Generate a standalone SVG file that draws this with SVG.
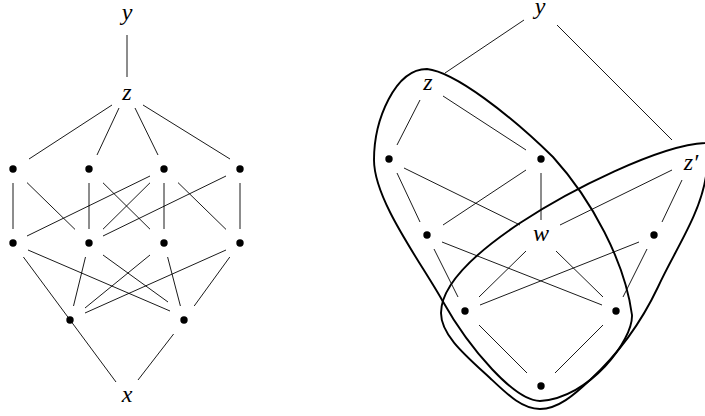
<svg xmlns="http://www.w3.org/2000/svg" width="705" height="416" viewBox="0 0 705 416">
<style>
.e{stroke:#000;stroke-width:0.9;fill:none;stroke-linecap:butt}
.b{stroke:#000;stroke-width:1.9;fill:none}
.d{fill:#000}
.t{font-family:"Liberation Serif","Times New Roman",serif;font-style:italic;font-size:24px;text-anchor:middle;fill:#000}
</style>
<rect width="705" height="416" fill="#fff"/>
<g id="left-connectors">
<line class="e" x1="127" y1="35" x2="127" y2="77"/>
<line class="e" x1="112" y1="105" x2="29" y2="159"/>
<line class="e" x1="119" y1="108" x2="97" y2="155"/>
<line class="e" x1="135" y1="108" x2="158" y2="155"/>
<line class="e" x1="143" y1="105" x2="230" y2="159"/>
<line class="e" x1="13" y1="183" x2="13" y2="229"/>
<line class="e" x1="27" y1="182.6" x2="75" y2="229.4"/>
<line class="e" x1="89" y1="183" x2="89" y2="229"/>
<line class="e" x1="103" y1="182.8" x2="150" y2="229.2"/>
<line class="e" x1="150" y1="176" x2="27" y2="236"/>
<line class="e" x1="150" y1="182.8" x2="103" y2="229.2"/>
<line class="e" x1="164" y1="183" x2="164" y2="229"/>
<line class="e" x1="178" y1="182.6" x2="226" y2="229.4"/>
<line class="e" x1="226" y1="176" x2="103" y2="236"/>
<line class="e" x1="240" y1="183" x2="240" y2="229"/>
<line class="e" x1="23.4" y1="257" x2="116" y2="382"/>
<line class="e" x1="28" y1="250" x2="170" y2="311"/>
<line class="e" x1="85.5" y1="257" x2="73.5" y2="306"/>
<line class="e" x1="103" y1="255" x2="168" y2="302"/>
<line class="e" x1="150" y1="255" x2="85" y2="308"/>
<line class="e" x1="167.6" y1="257" x2="180.4" y2="306"/>
<line class="e" x1="226" y1="250" x2="85" y2="313"/>
<line class="e" x1="229.8" y1="257" x2="194.2" y2="306"/>
<line class="e" x1="173.6" y1="334" x2="138" y2="380"/>
</g>
<g id="right-connectors">
<line class="e" x1="524" y1="20" x2="445" y2="73"/>
<line class="e" x1="557" y1="25" x2="672" y2="140"/>
<line class="e" x1="420" y1="100" x2="397" y2="145"/>
<line class="e" x1="443" y1="96" x2="526" y2="150"/>
<line class="e" x1="404" y1="168" x2="520" y2="225"/>
<line class="e" x1="397" y1="173" x2="420" y2="222"/>
<line class="e" x1="526" y1="170" x2="443" y2="225"/>
<line class="e" x1="541" y1="173" x2="541" y2="220"/>
<line class="e" x1="672" y1="170" x2="560" y2="225"/>
<line class="e" x1="682" y1="180" x2="662" y2="222"/>
<line class="e" x1="434" y1="249" x2="458" y2="297"/>
<line class="e" x1="442" y1="242" x2="602" y2="305"/>
<line class="e" x1="526" y1="251" x2="479" y2="297"/>
<line class="e" x1="556" y1="251" x2="603" y2="297"/>
<line class="e" x1="639" y1="242" x2="480" y2="305"/>
<line class="e" x1="647" y1="249" x2="623" y2="297"/>
<line class="e" x1="479" y1="325" x2="527" y2="373"/>
<line class="e" x1="603" y1="325" x2="555" y2="373"/>
</g>
<g id="blobs">
<path id="blob-z" class="b" d="M427,69 C455,72 510,115 553,157 C592,200 625,262 632,315 C633,340 590,398 540,401 C515,401 470,350 442,300 C420,261 374,200 374,160 C374,120 395,69 427,69 Z"/>
<path id="blob-z2" class="b" d="M705,143 C660,145 570,190 520,223 C490,243 441,280 441,313 C441,335 465,355 490,378 C508,395 522,409 540,409 C558,409 574,395 590,380 C615,357 640,325 658,287 C675,250 700,215 706,176 C712,152 720,140 705,143 Z"/>
</g>
<g id="ly"><text class="t" x="127" y="20">y</text></g>
<g id="lz"><text class="t" x="127" y="100">z</text></g>
<g id="l11"><circle class="d" cx="13" cy="169" r="3.7"/></g>
<g id="l12"><circle class="d" cx="89" cy="169" r="3.7"/></g>
<g id="l13"><circle class="d" cx="164" cy="169" r="3.7"/></g>
<g id="l14"><circle class="d" cx="240" cy="169" r="3.7"/></g>
<g id="l21"><circle class="d" cx="13" cy="243" r="3.7"/></g>
<g id="l22"><circle class="d" cx="89" cy="243" r="3.7"/></g>
<g id="l23"><circle class="d" cx="164" cy="243" r="3.7"/></g>
<g id="l24"><circle class="d" cx="240" cy="243" r="3.7"/></g>
<g id="l31"><circle class="d" cx="70" cy="320" r="3.7"/></g>
<g id="l32"><circle class="d" cx="184" cy="320" r="3.7"/></g>
<g id="lx"><text class="t" x="127" y="402">x</text></g>
<g id="ry"><text class="t" x="540" y="14">y</text></g>
<g id="rz"><text class="t" x="428" y="90">z</text></g>
<g id="rz2"><text class="t" x="691" y="170">z′</text></g>
<g id="rA"><circle class="d" cx="389" cy="159" r="3.7"/></g>
<g id="rB"><circle class="d" cx="541" cy="159" r="3.7"/></g>
<g id="rw"><text class="t" x="541" y="241">w</text></g>
<g id="rC"><circle class="d" cx="427" cy="235" r="3.7"/></g>
<g id="rD"><circle class="d" cx="654" cy="235" r="3.7"/></g>
<g id="rE"><circle class="d" cx="465" cy="311" r="3.7"/></g>
<g id="rF"><circle class="d" cx="616" cy="311" r="3.7"/></g>
<g id="rG"><circle class="d" cx="541" cy="386" r="3.7"/></g>
</svg>
